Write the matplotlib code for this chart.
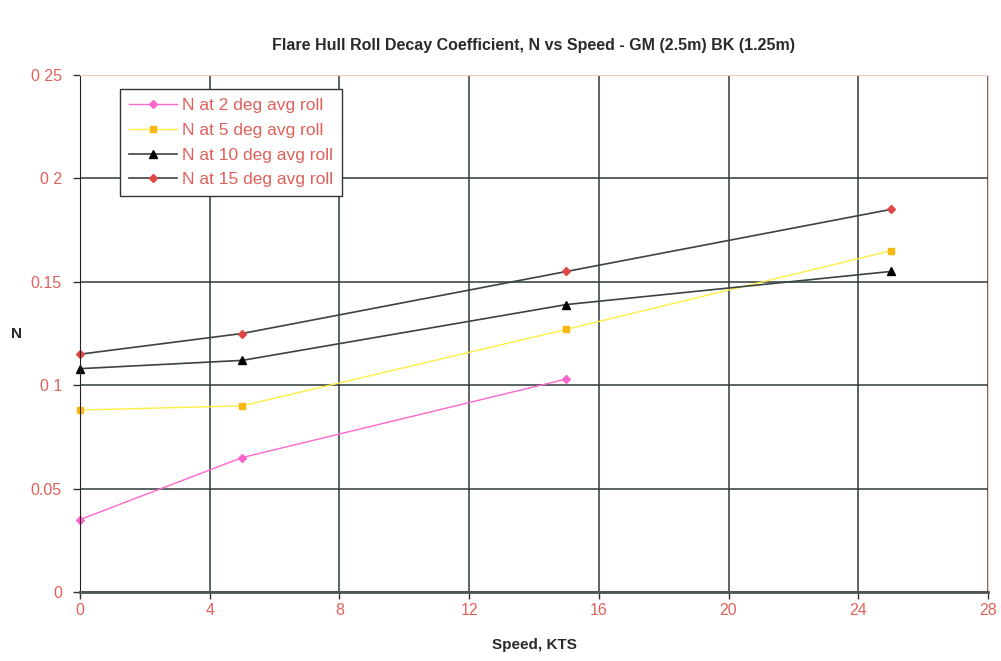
import numpy as np
import matplotlib
matplotlib.use('Agg')
from matplotlib import pyplot as plt

plt.rcParams['font.family'] = ['Liberation Sans', 'DejaVu Sans']

# data
speed = [0, 5, 15, 25]
n_2deg = [0.035, 0.065, 0.103]          # only up to 15 kts
n_5deg = [0.088, 0.090, 0.127, 0.165]
n_10deg = [0.108, 0.112, 0.139, 0.155]
n_15deg = [0.115, 0.125, 0.155, 0.185]

y_ticks = [0, 0.05, 0.1, 0.15, 0.2, 0.25]
y_tick_labels = ['0', '0.05', '0 1', '0.15', '0 2', '0 25']
x_ticks = [0, 4, 8, 12, 16, 20, 24, 28]

salmon = '#e0605a'
grid_c = '#2e3b38'

fig = plt.figure(figsize=(10.01, 6.61), dpi=100)
ax = fig.add_axes([0.0799, 0.1044, 0.9071, 0.7821])

ax.plot(speed[:3], n_2deg, color='#ff66cc', lw=1, marker='D', ms=4,
        label='N at 2 deg avg roll', clip_on=False)
ax.plot(speed, n_5deg, color='#ffee44', lw=1, marker='s', ms=5,
        mfc='#f7b90f', mec='#f7b90f', label='N at 5 deg avg roll', clip_on=False)
ax.plot(speed, n_10deg, color='#3a4442', lw=1.2, marker='^', ms=6,
        mfc='black', mec='black', label='N at 10 deg avg roll', clip_on=False)
ax.plot(speed, n_15deg, color='#3a4442', lw=1.2, marker='D', ms=4,
        mfc='#e04848', mec='#e04848', label='N at 15 deg avg roll', clip_on=False)

ax.set_xlim(0, 28)
ax.set_ylim(0, 0.25)
ax.set_xticks(x_ticks)
ax.set_yticks(y_ticks)
ax.set_yticklabels(y_tick_labels)
ax.grid(True, color=grid_c, lw=1.1)
ax.set_axisbelow(True)

ax.tick_params(axis='both', colors='#333333', labelcolor=salmon,
               labelsize=11.5, length=5, width=1, direction='out')
ax.tick_params(axis='x', pad=3)
ax.tick_params(axis='y', pad=8)

ax.spines['left'].set_color('#222222')
ax.spines['bottom'].set_color('#4a5553')
ax.spines['bottom'].set_linewidth(2)
ax.spines['top'].set_color('#f5c8c0')
ax.spines['right'].set_color('#f5c8c0')

ax.set_title('Flare Hull Roll Decay Coefficient, N vs Speed - GM (2.5m) BK (1.25m)',
             fontsize=11.5, fontweight='bold', color='#2a2a2a', pad=18)
ax.set_xlabel('Speed, KTS', fontsize=11, fontweight='bold', color='#2a2a2a', labelpad=14)
ax.set_ylabel('N', fontsize=11, fontweight='bold', color='#2a2a2a', rotation=0,
              labelpad=10, va='center')

leg = ax.legend(loc='upper left', bbox_to_anchor=(0.044, 0.972), fontsize=12.5,
                frameon=True, fancybox=False, handlelength=2.8, handletextpad=0.3,
                borderpad=0.5, labelspacing=0.55, borderaxespad=0)
leg.get_frame().set_edgecolor('#333333')
leg.get_frame().set_linewidth(1)
leg.get_frame().set_alpha(1)
for t in leg.get_texts():
    t.set_color(salmon)

fig.savefig('out.png', dpi=100)
